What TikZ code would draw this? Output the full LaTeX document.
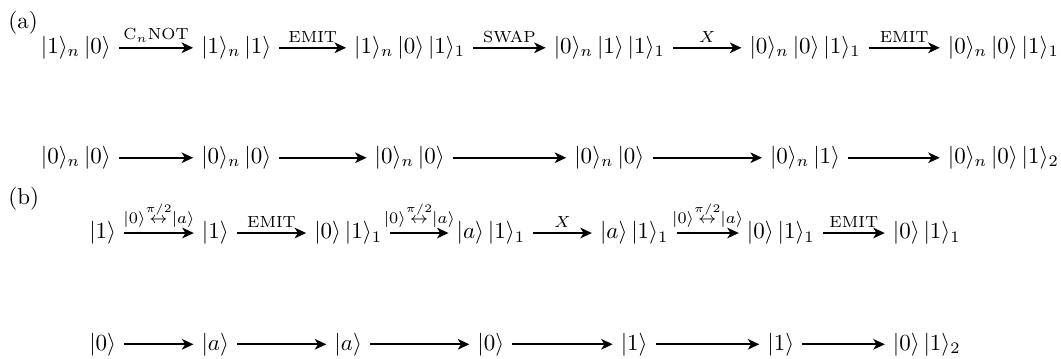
\documentclass[tikz,border=0pt]{standalone}
\usepackage{amsmath}
\usetikzlibrary{arrows.meta}
\newcommand{\qket}[1]{|#1\rangle}
\newcommand{\rotq}{\qket{0}{\overset{\pi/2}{\leftrightarrow}}\qket{a}}

\begin{document}
\begin{tikzpicture}[
  gate/.style={-{Stealth[length=5pt,width=4.6pt,inset=1.4pt]}, thick},
  glabel/.style={above, inner sep=2pt, font=\scriptsize},
  panel/.style={anchor=base west, inner sep=0pt},
]
% page is 16.21 x 5.47 cm, origin at top left
\useasboundingbox (0,0) rectangle (16.21,-5.47);

%% ---- PANEL (a) ----
\node[panel] (la) at (0.12,-0.44) {(a)};

% top row
\node (a11) at (1.16,-0.73)  {$\qket{1}_n\,\qket{0}$};
\node (a12) at (3.61,-0.73)  {$\qket{1}_n\,\qket{1}$};
\node (a13) at (6.26,-0.73)  {$\qket{1}_n\,\qket{0}\,\qket{1}_1$};
\node (a14) at (9.31,-0.73)  {$\qket{0}_n\,\qket{1}\,\qket{1}_1$};
\node (a15) at (12.30,-0.73) {$\qket{0}_n\,\qket{0}\,\qket{1}_1$};
\node (a16) at (15.33,-0.73) {$\qket{0}_n\,\qket{0}\,\qket{1}_1$};

\draw[gate] (a11) -- node[glabel] {$\mathrm{C}_n\mathrm{NOT}$} (a12);
\draw[gate] (a12) -- node[glabel] {$\mathrm{EMIT}$} (a13);
\draw[gate] (a13) -- node[glabel] {$\mathrm{SWAP}$} (a14);
\draw[gate] (a14) -- node[glabel] {$X$} (a15);
\draw[gate] (a15) -- node[glabel] {$\mathrm{EMIT}$} (a16);

% bottom row
\node (a21) at (1.16,-2.41)  {$\qket{0}_n\,\qket{0}$};
\node (a22) at (3.61,-2.41)  {$\qket{0}_n\,\qket{0}$};
\node (a23) at (6.26,-2.41)  {$\qket{0}_n\,\qket{0}$};
\node (a24) at (9.31,-2.41)  {$\qket{0}_n\,\qket{0}$};
\node (a25) at (12.30,-2.41) {$\qket{0}_n\,\qket{1}$};
\node (a26) at (15.33,-2.41) {$\qket{0}_n\,\qket{0}\,\qket{1}_2$};

\foreach \i/\j in {1/2,2/3,3/4,4/5,5/6}
  \draw[gate] (a2\i) -- (a2\j);

%% ---- PANEL (b) ----
\node[panel] (lb) at (0.12,-3.13) {(b)};

% top row
\node (b11) at (1.57,-3.56)  {$\qket{1}$};
\node (b12) at (3.29,-3.56)  {$\qket{1}$};
\node (b13) at (5.32,-3.56)  {$\qket{0}\,\qket{1}_1$};
\node (b14) at (7.50,-3.56)  {$\qket{a}\,\qket{1}_1$};
\node (b15) at (9.69,-3.56)  {$\qket{a}\,\qket{1}_1$};
\node (b16) at (11.93,-3.56) {$\qket{0}\,\qket{1}_1$};
\node (b17) at (14.16,-3.56) {$\qket{0}\,\qket{1}_1$};

\draw[gate] (b11) -- node[glabel] {$\rotq$} (b12);
\draw[gate] (b12) -- node[glabel] {$\mathrm{EMIT}$} (b13);
\draw[gate] (b13) -- node[glabel] {$\rotq$} (b14);
\draw[gate] (b14) -- node[glabel] {$X$} (b15);
\draw[gate] (b15) -- node[glabel] {$\rotq$} (b16);
\draw[gate] (b16) -- node[glabel] {$\mathrm{EMIT}$} (b17);

% bottom row
\node (b21) at (1.57,-5.26)  {$\qket{0}$};
\node (b22) at (3.29,-5.26)  {$\qket{a}$};
\node (b23) at (5.32,-5.26)  {$\qket{a}$};
\node (b24) at (7.50,-5.26)  {$\qket{0}$};
\node (b25) at (9.69,-5.26)  {$\qket{1}$};
\node (b26) at (11.93,-5.26) {$\qket{1}$};
\node (b27) at (14.16,-5.26) {$\qket{0}\,\qket{1}_2$};

\foreach \i/\j in {1/2,2/3,3/4,4/5,5/6,6/7}
  \draw[gate] (b2\i) -- (b2\j);

\end{tikzpicture}
\end{document}
